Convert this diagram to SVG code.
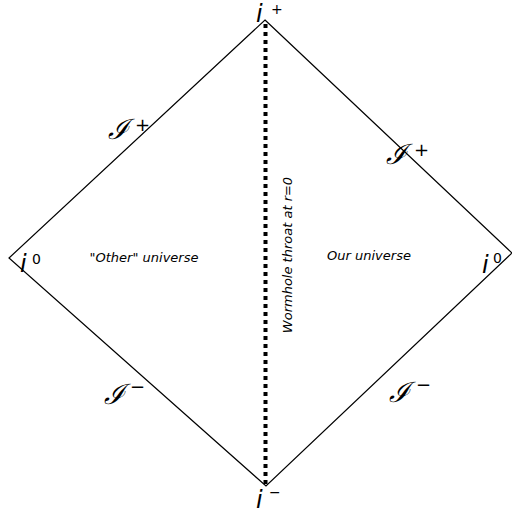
<svg xmlns="http://www.w3.org/2000/svg" width="512" height="517" viewBox="0 0 512 517">
<style>
.edge{fill:none;stroke:#000;stroke-width:1.2}
.pt{font-family:"DejaVu Sans",sans-serif;font-style:italic;font-size:24px;fill:#000}
.sup{font-family:"DejaVu Sans",sans-serif;font-size:14px;fill:#000}
.ssup{font-family:"DejaVu Sans",sans-serif;font-size:18px;fill:#000}
.scri{font-family:"DejaVu Serif",serif;font-style:italic;font-size:28px;fill:#000}
.lbl{font-family:"DejaVu Sans",sans-serif;font-style:italic;font-size:13px;fill:#000}
</style>
<rect width="512" height="517" fill="#fff"/>
<g id="connectors">
<path class="edge" d="M265,20 L512,253 L266,486 L9,258 Z"/>
<line x1="265.5" y1="24" x2="265.5" y2="484" stroke="#000" stroke-width="4" stroke-dasharray="4 4"/>
</g>
<g id="iplus"><text class="pt" x="256" y="22">i</text><text class="sup" x="271" y="14">+</text></g>
<g id="iminus"><text class="pt" x="256" y="508">i</text><text class="sup" x="269" y="497">−</text></g>
<g id="i0left"><text class="pt" x="20" y="272">i</text><text class="sup" x="32" y="264">0</text></g>
<g id="i0right"><text class="pt" x="482" y="273">i</text><text class="sup" x="493" y="263">0</text></g>
<g id="scri-ul"><text class="scri" x="108" y="139">ℐ</text><text class="ssup" x="135" y="131">+</text></g>
<g id="scri-ur"><text class="scri" x="386" y="164">ℐ</text><text class="ssup" x="414" y="156">+</text></g>
<g id="scri-ll"><text class="scri" x="104" y="404">ℐ</text><text class="ssup" x="130" y="393">−</text></g>
<g id="scri-lr"><text class="scri" x="389" y="402">ℐ</text><text class="ssup" x="416" y="391">−</text></g>
<g id="other"><text class="lbl" x="144" y="262" text-anchor="middle">"Other" universe</text></g>
<g id="ours"><text class="lbl" x="369" y="260" text-anchor="middle">Our universe</text></g>
<g id="throat"><text class="lbl" transform="translate(292,255) rotate(-90)" text-anchor="middle">Wormhole throat at r=0</text></g>
</svg>
